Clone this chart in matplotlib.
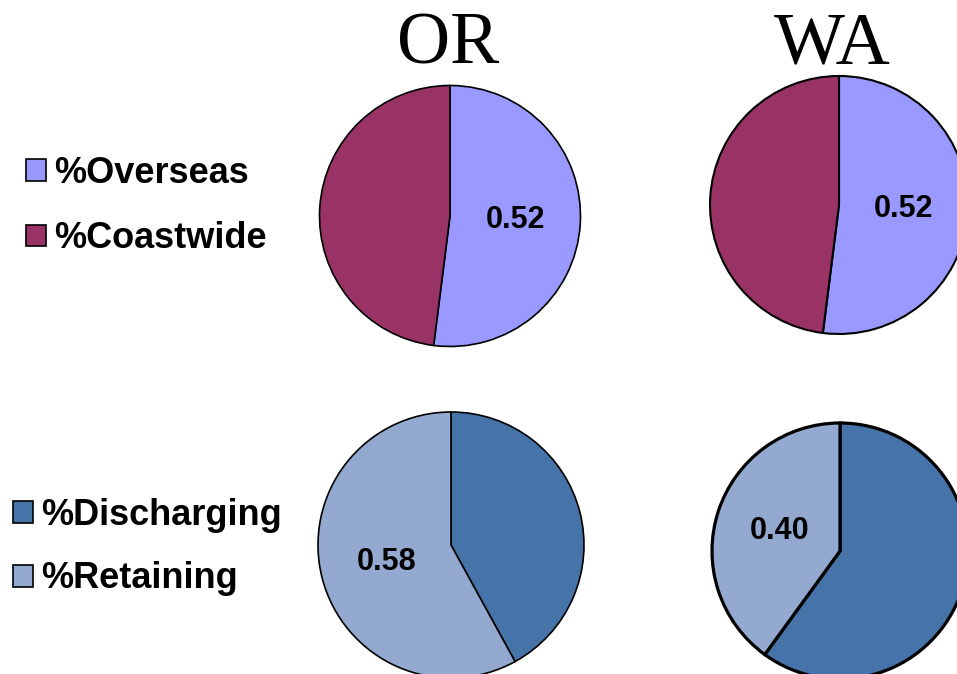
import matplotlib
matplotlib.use("Agg")
import matplotlib.pyplot as plt

# share of vessel arrivals by route, and ballast behaviour
states = ["OR", "WA"]
route_labels = ["%Overseas", "%Coastwide"]
or_route = [0.52, 0.48]
wa_route = [0.52, 0.48]
ballast_labels = ["%Discharging", "%Retaining"]
or_ballast = [0.42, 0.58]
wa_ballast = [0.60, 0.40]

route_colors = ["#9999FF", "#993366"]
ballast_colors = ["#4673A8", "#94A9CF"]

W, H = 957, 674
fig = plt.figure(figsize=(W / 100, H / 100), dpi=100)
ax = fig.add_axes([0, 0, 1, 1])


def draw_pie(values, colors, cx, cy, r, lw, shown):
    # cx, cy in pixels from top-left
    wedges, texts, autotexts = ax.pie(
        values, colors=colors, center=(cx, H - cy), radius=r,
        startangle=90, counterclock=False,
        autopct=lambda p: "%.2f" % (p / 100), pctdistance=0.5,
        wedgeprops=dict(edgecolor="black", linewidth=lw),
        textprops=dict(fontsize=22, fontweight="bold", family="Liberation Sans"))
    for i, t in enumerate(autotexts):
        if i != shown:
            t.set_visible(False)
    return wedges


w_route = draw_pie(or_route, route_colors, 450, 216, 130.5, 1.2, 0)
draw_pie(wa_route, route_colors, 839, 205, 129, 1.5, 0)
w_ballast = draw_pie(or_ballast, ballast_colors, 451, 545, 133, 1.2, 1)
draw_pie(wa_ballast, ballast_colors, 840, 551, 128, 2.3, 1)

ax.set_xlim(0, W)
ax.set_ylim(0, H)
ax.set_axis_off()

# state titles
ax.text(448, H - 63, states[0], fontsize=53, family="Liberation Serif",
        ha="center", va="baseline")
ax.text(832, H - 63, states[1], fontsize=54, family="Liberation Serif",
        ha="center", va="baseline")

leg_font = dict(size=26, weight="bold", family="Liberation Sans")
leg1 = fig.legend(w_route, route_labels, loc="center left",
                  bbox_to_anchor=(26 / W, 1 - 206 / H), frameon=False,
                  prop=leg_font, borderpad=0, borderaxespad=0,
                  handlelength=0.55, handleheight=0.55, handletextpad=0.22,
                  labelspacing=0.85)
leg2 = fig.legend(w_ballast, ballast_labels, loc="center left",
                  bbox_to_anchor=(13 / W, 1 - 547 / H), frameon=False,
                  prop=leg_font, borderpad=0, borderaxespad=0,
                  handlelength=0.55, handleheight=0.55, handletextpad=0.22,
                  labelspacing=0.8)

fig.savefig("out.png", dpi=100)
